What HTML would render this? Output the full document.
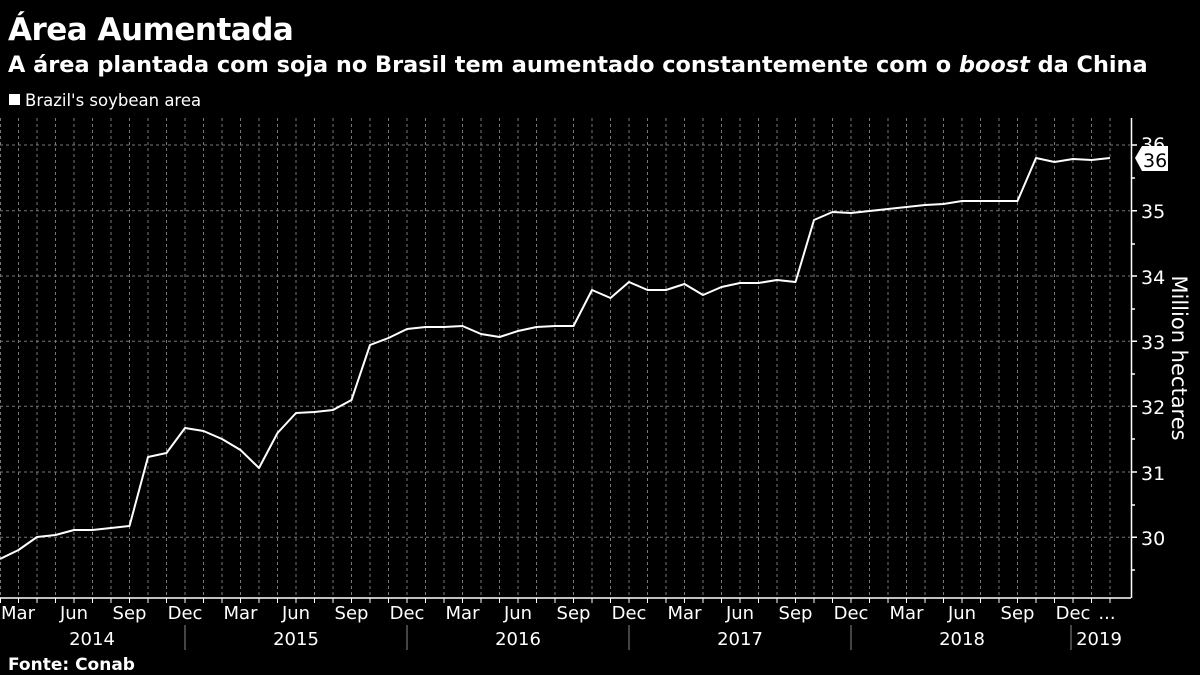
<!DOCTYPE html>
<html><head><meta charset="utf-8"><style>
body{margin:0;background:#000;width:1200px;height:675px;overflow:hidden;font-family:"DejaVu Sans","Liberation Sans",sans-serif;color:#fff}
</style></head><body>
<svg width="1200" height="675" xmlns="http://www.w3.org/2000/svg" style="position:absolute;left:0;top:0">
<text x="8" y="40" font-size="31" font-weight="bold" fill="#fff" font-family="DejaVu Sans" style="letter-spacing:-0.5px">Área Aumentada</text>
<text x="8" y="72" font-size="22.4" font-weight="bold" fill="#fff" font-family="DejaVu Sans">A área plantada com soja no Brasil tem aumentado constantemente com o <tspan font-style="italic">boost</tspan> da China</text>
<rect x="9" y="94" width="11" height="11" fill="#fff"/>
<text x="25" y="106" font-size="16.5" fill="#fff" font-family="DejaVu Sans">Brazil's soybean area</text>
<g stroke="#777" stroke-dasharray="3,3" stroke-width="1">
<line x1="0" x2="1130" y1="145" y2="145"/><line x1="0" x2="1130" y1="210.7" y2="210.7"/><line x1="0" x2="1130" y1="276" y2="276"/><line x1="0" x2="1130" y1="341.3" y2="341.3"/><line x1="0" x2="1130" y1="406.3" y2="406.3"/><line x1="0" x2="1130" y1="472" y2="472"/><line x1="0" x2="1130" y1="537.3" y2="537.3"/>
<path d="M0.5 118V598M18.5 118V598M37 118V598M55.5 118V598M74 118V598M92.5 118V598M111 118V598M129.5 118V598M148 118V598M166.5 118V598M185 118V598M203.5 118V598M222 118V598M240.5 118V598M259 118V598M277.5 118V598M296 118V598M314.5 118V598M333 118V598M351.5 118V598M370 118V598M388.5 118V598M407 118V598M425.5 118V598M444 118V598M462.5 118V598M481 118V598M499.5 118V598M518 118V598M536.5 118V598M555 118V598M573.5 118V598M592 118V598M610.5 118V598M629 118V598M647.5 118V598M666 118V598M684.5 118V598M703 118V598M721.5 118V598M740 118V598M758.5 118V598M777 118V598M795.5 118V598M814 118V598M832.5 118V598M851 118V598M869.5 118V598M888 118V598M906.5 118V598M925 118V598M943.5 118V598M962 118V598M980.5 118V598M999 118V598M1017.5 118V598M1036 118V598M1054.5 118V598M1073 118V598M1091.5 118V598M1110 118V598"/>
</g>
<line x1="0" x2="1131" y1="598" y2="598" stroke="#fff" stroke-width="1.5"/>
<line x1="1131.5" x2="1131.5" y1="118" y2="598" stroke="#fff" stroke-width="1.5"/>
<polyline fill="none" stroke="#fff" stroke-width="2" stroke-linejoin="round" points="0,559 18.5,550 37,537 55.5,535 74,530 92.5,530 111,528 129.5,526 148,457 166.5,453 185,428 203.5,431 222,439 240.5,450 259,468 277.5,433 296,413 314.5,412 333,410 351.5,400 370,345 388.5,338 407,329 425.5,327 444,327 462.5,326 481,334 499.5,337 518,331 536.5,327 555,326 573.5,326 592,290 610.5,298 629,282 647.5,290 666,290 684.5,284 703,295 721.5,287 740,283 758.5,283 777,280 795.5,282 814,220 832.5,212 851,213 869.5,211 888,209 906.5,207 925,205 943.5,204 962,201 980.5,201 999,201 1017.5,201 1036,158 1054.5,162 1073,159 1091.5,160 1110,158"/>
<g fill="#fff" font-size="19" font-family="DejaVu Sans" text-anchor="start">
<text x="1141" y="218">35</text><text x="1141" y="284">34</text><text x="1141" y="349">33</text><text x="1141" y="414">32</text><text x="1141" y="480">31</text><text x="1141" y="545">30</text>
<text x="1141" y="151">36</text>
</g>
<g stroke="#fff" stroke-width="1.5"><path d="M1131 145h6M1131 210.7h6M1131 276h6M1131 341.3h6M1131 406.3h6M1131 472h6M1131 537.3h6M1131 178h4M1131 244h4M1131 309h4M1131 374h4M1131 439h4M1131 505h4M1131 570h4"/></g>
<polygon points="1135,158 1142,146 1168,146 1168,171 1142,171" fill="#fff"/>
<text x="1143" y="167" font-size="19" fill="#000" font-family="DejaVu Sans">36</text>
<text x="1172" y="358" font-size="21" fill="#fff" font-family="DejaVu Sans" transform="rotate(90 1172 358)" text-anchor="middle">Million hectares</text>
<g stroke="#fff" stroke-width="1"><path d="M0.5 598v5M18.5 598v5M37 598v5M55.5 598v5M74 598v5M92.5 598v5M111 598v5M129.5 598v5M148 598v5M166.5 598v5M185 598v5M203.5 598v5M222 598v5M240.5 598v5M259 598v5M277.5 598v5M296 598v5M314.5 598v5M333 598v5M351.5 598v5M370 598v5M388.5 598v5M407 598v5M425.5 598v5M444 598v5M462.5 598v5M481 598v5M499.5 598v5M518 598v5M536.5 598v5M555 598v5M573.5 598v5M592 598v5M610.5 598v5M629 598v5M647.5 598v5M666 598v5M684.5 598v5M703 598v5M721.5 598v5M740 598v5M758.5 598v5M777 598v5M795.5 598v5M814 598v5M832.5 598v5M851 598v5M869.5 598v5M888 598v5M906.5 598v5M925 598v5M943.5 598v5M962 598v5M980.5 598v5M999 598v5M1017.5 598v5M1036 598v5M1054.5 598v5M1073 598v5M1091.5 598v5M1110 598v5"/></g>
<g stroke="#888" stroke-width="1"><path d="M185 625v25M407 625v25M629 625v25M851 625v25M1071 625v25"/></g>
<g fill="#fff" font-size="18" font-family="DejaVu Sans" text-anchor="middle">
<text x="18" y="619">Mar</text><text x="74" y="619">Jun</text><text x="129.5" y="619">Sep</text><text x="185" y="619">Dec</text>
<text x="240.5" y="619">Mar</text><text x="296" y="619">Jun</text><text x="351.5" y="619">Sep</text><text x="407" y="619">Dec</text>
<text x="462.5" y="619">Mar</text><text x="518" y="619">Jun</text><text x="573.5" y="619">Sep</text><text x="629" y="619">Dec</text>
<text x="684.5" y="619">Mar</text><text x="740" y="619">Jun</text><text x="795.5" y="619">Sep</text><text x="851" y="619">Dec</text>
<text x="906.5" y="619">Mar</text><text x="962" y="619">Jun</text><text x="1017.5" y="619">Sep</text><text x="1073" y="619">Dec</text><text x="1107" y="619">...</text>
<text x="92" y="645">2014</text><text x="296" y="645">2015</text><text x="518" y="645">2016</text><text x="740" y="645">2017</text><text x="962" y="645">2018</text><text x="1099" y="645">2019</text>
</g>
<text x="8" y="670" font-size="17" font-weight="bold" fill="#fff" font-family="DejaVu Sans">Fonte: Conab</text>
</svg>
</body></html>
